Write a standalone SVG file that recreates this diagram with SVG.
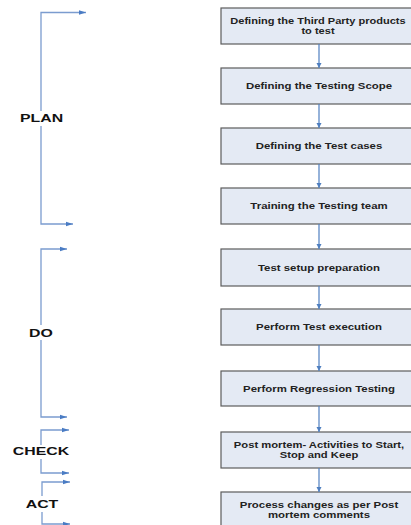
<svg xmlns="http://www.w3.org/2000/svg" width="411" height="525" viewBox="0 0 411 525">
<style>
.box rect{fill:#e4eaf4;stroke:#5c5c5c;stroke-width:1.2}
.box text{font-family:"Liberation Sans",Arial,sans-serif;font-weight:bold;font-size:9.2px;fill:#222;text-anchor:middle}
.conn line{stroke:#4f7fc0;stroke-width:1.2;fill:none}
.br polyline{stroke:#7b9ccf;stroke-width:1.3;fill:none}
.lbl{font-family:"Liberation Sans",Arial,sans-serif;font-weight:bold;font-size:11.5px;fill:#111;text-anchor:middle}
</style>
<defs>
<marker id="ah" markerWidth="6" markerHeight="6" refX="5" refY="3" orient="auto" markerUnits="userSpaceOnUse">
<path d="M0,0.5 L5,3 L0,5.5 Z" fill="#4f7fc0"/>
</marker>
<marker id="bh" markerWidth="8" markerHeight="6" refX="7" refY="3" orient="auto" markerUnits="userSpaceOnUse">
<path d="M0,0.8 L7,3 L0,5.2 Z" fill="#4a7cc4"/>
</marker>
</defs>

<g id="n1" class="box"><rect x="221" y="8" width="196" height="36"/>
<text transform="translate(318,23.5) scale(1.2,1)">Defining the Third Party products</text>
<text transform="translate(318,33.5) scale(1.2,1)">to test</text></g>
<g id="n2" class="box"><rect x="221" y="68" width="196" height="36"/>
<text transform="translate(319,89) scale(1.24,1)">Defining the Testing Scope</text></g>
<g id="n3" class="box"><rect x="221" y="128" width="196" height="36"/>
<text transform="translate(319,149) scale(1.24,1)">Defining the Test cases</text></g>
<g id="n4" class="box"><rect x="221" y="188" width="196" height="36"/>
<text transform="translate(319,209) scale(1.24,1)">Training the Testing team</text></g>
<g id="n5" class="box"><rect x="221" y="249" width="196" height="37"/>
<text transform="translate(319,270.5) scale(1.24,1)">Test setup preparation</text></g>
<g id="n6" class="box"><rect x="221" y="309" width="196" height="36"/>
<text transform="translate(319,330) scale(1.24,1)">Perform Test execution</text></g>
<g id="n7" class="box"><rect x="221" y="371" width="196" height="35"/>
<text transform="translate(319,391.5) scale(1.24,1)">Perform Regression Testing</text></g>
<g id="n8" class="box"><rect x="221" y="432" width="196" height="36"/>
<text transform="translate(319,447.5) scale(1.22,1)">Post mortem- Activities to Start,</text>
<text transform="translate(319,458) scale(1.22,1)">Stop and Keep</text></g>
<g id="n9" class="box"><rect x="221" y="492" width="196" height="36"/>
<text transform="translate(319,507.5) scale(1.24,1)">Process changes as per Post</text>
<text transform="translate(319,518) scale(1.24,1)">mortem comments</text></g>

<g id="connectors" class="conn">
<line x1="319" y1="44" x2="319" y2="68" marker-end="url(#ah)"/>
<line x1="319" y1="104" x2="319" y2="128" marker-end="url(#ah)"/>
<line x1="319" y1="164" x2="319" y2="188" marker-end="url(#ah)"/>
<line x1="319" y1="224" x2="319" y2="249" marker-end="url(#ah)"/>
<line x1="319" y1="286" x2="319" y2="309" marker-end="url(#ah)"/>
<line x1="319" y1="345" x2="319" y2="371" marker-end="url(#ah)"/>
<line x1="319" y1="406" x2="319" y2="432" marker-end="url(#ah)"/>
<line x1="319" y1="468" x2="319" y2="492" marker-end="url(#ah)"/>
</g>

<g id="plan" class="br">
<polyline points="41,111 41,12.5 86,12.5" marker-end="url(#bh)"/>
<polyline points="41,126 41,224 73,224" marker-end="url(#bh)"/>
<text class="lbl" transform="translate(41.5,121.5) scale(1.38,1)">PLAN</text>
</g>
<g id="do" class="br">
<polyline points="41,325 41,249 67,249" marker-end="url(#bh)"/>
<polyline points="41,340 41,417 67,417" marker-end="url(#bh)"/>
<text class="lbl" transform="translate(41,337) scale(1.38,1)">DO</text>
</g>
<g id="check" class="br">
<polyline points="41,445 41,430 69,430" marker-end="url(#bh)"/>
<polyline points="41,459 41,473 69,473" marker-end="url(#bh)"/>
<text class="lbl" transform="translate(41,455) scale(1.38,1)">CHECK</text>
</g>
<g id="act" class="br">
<polyline points="42,496 42,482 70,482" marker-end="url(#bh)"/>
<polyline points="42,512 42,524 70,524" marker-end="url(#bh)"/>
<text class="lbl" transform="translate(42,508) scale(1.38,1)">ACT</text>
</g>
</svg>
